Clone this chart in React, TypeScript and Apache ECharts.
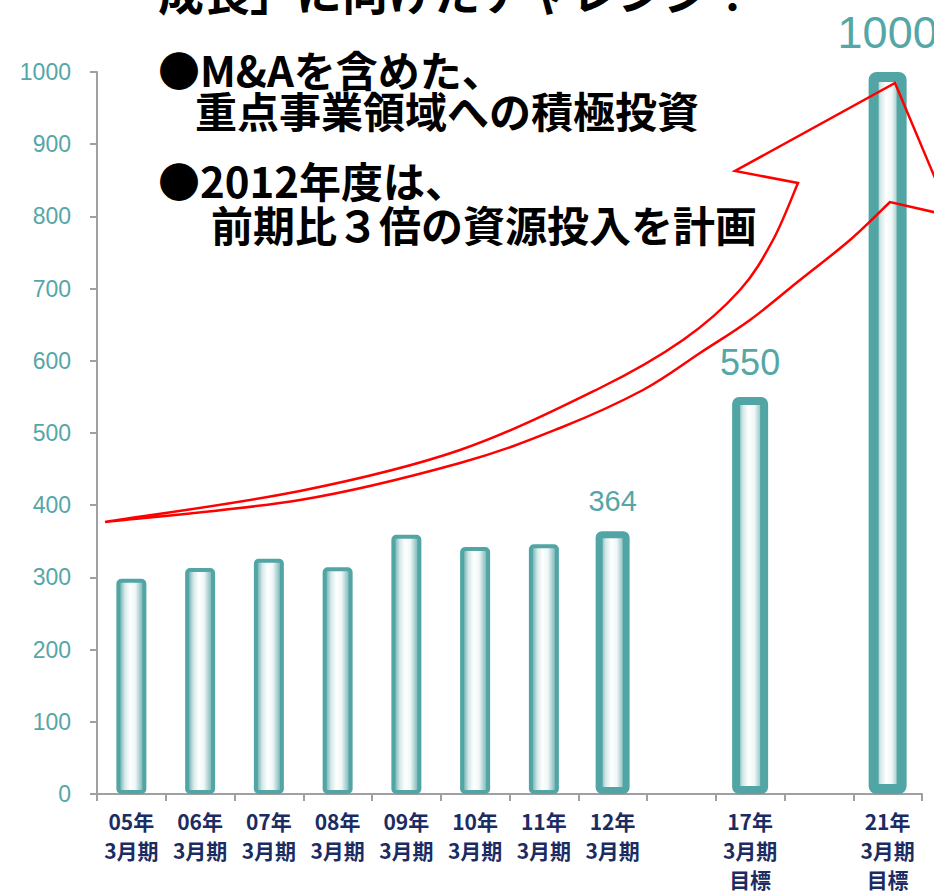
import React, { useEffect, useRef } from 'react';
import * as echarts from 'echarts';

const categories = [
  '05年\n3月期', '06年\n3月期', '07年\n3月期', '08年\n3月期', '09年\n3月期',
  '10年\n3月期', '11年\n3月期', '12年\n3月期', '', '17年\n3月期\n目標', '', '21年\n3月期\n目標',
];
const values: (number | null)[] = [298, 313, 326, 314, 359, 342, 346, 364, null, 550, null, 1000];
const labeledCategories = ['12年\n3月期', '17年\n3月期\n目標', '21年\n3月期\n目標'];
const yTicks = { min: 0, max: 1000, interval: 100 };

const titleText = '成長」に向けたチャレンジ！';
const bulletLines = ['●M&Aを含めた、', '重点事業領域への積極投資', '●2012年度は、', '前期比３倍の資源投入を計画'];

// Decorative arrow outline (pixel coordinates of the drawing)
const upperCurve: [number, number][] = [[105, 522], [300, 491], [460, 450], [600, 388], [683, 340], [740, 290], [773, 240], [798, 183]];
const lowerCurve: [number, number][] = [[890, 202], [850, 240], [800, 280], [750, 320], [700, 353], [643, 390], [560, 428], [460, 463], [300, 500], [105, 522]];

function catmull(points: [number, number][]): string {
  let d = '';
  for (let i = 0; i < points.length - 1; i++) {
    const p0 = points[Math.max(0, i - 1)];
    const p1 = points[i];
    const p2 = points[i + 1];
    const p3 = points[Math.min(points.length - 1, i + 2)];
    const c1x = p1[0] + (p2[0] - p0[0]) / 6;
    const c1y = p1[1] + (p2[1] - p0[1]) / 6;
    const c2x = p2[0] - (p3[0] - p1[0]) / 6;
    const c2y = p2[1] - (p3[1] - p1[1]) / 6;
    d += ` C${c1x.toFixed(1)},${c1y.toFixed(1)} ${c2x.toFixed(1)},${c2y.toFixed(1)} ${p2[0]},${p2[1]}`;
  }
  return d;
}

const arrowD =
  `M${upperCurve[0][0]},${upperCurve[0][1]}` +
  catmull(upperCurve) +
  ' L735,171 L895,83 L951,216 L890,202' +
  catmull(lowerCurve) +
  ' Z';

echarts.graphic.registerShape('arrowOutline', echarts.graphic.extendPath(arrowD, {}));

const TEAL = '#52a5a5';

export default function App() {
  const ref = useRef<HTMLDivElement>(null);
  useEffect(() => {
    if (!ref.current) return;
    const chart = echarts.init(ref.current, undefined, { renderer: 'svg' });
    const gradient = () => new echarts.graphic.LinearGradient(0, 0, 1, 0, [
      { offset: 0, color: '#55a2a2' },
      { offset: 0.25, color: '#d6e9e9' },
      { offset: 0.45, color: '#ffffff' },
      { offset: 0.65, color: '#f0f7f7' },
      { offset: 1, color: '#64a9a9' },
    ]);
    // bar groups: regular bars and the three labelled bars (each drawn heavier)
    const groups = [
      { cats: categories.filter((c) => c && !labeledCategories.includes(c)), width: 30, border: 4, fs: 0, dist: 0 },
      { cats: [labeledCategories[0]], width: 34, border: 7, fs: 29, dist: 16 },
      { cats: [labeledCategories[1]], width: 36, border: 8, fs: 36, dist: 16 },
      { cats: [labeledCategories[2]], width: 38, border: 10, fs: 45, dist: 17 },
    ];
    const axisBase = {
      type: 'category',
      data: categories,
      axisLine: { lineStyle: { color: '#a0a0a0', width: 2 } },
      axisTick: { show: true, length: 7, lineStyle: { color: '#a0a0a0', width: 2 } },
      axisLabel: {
        interval: 0,
        margin: 12,
        color: '#1b2c63',
        fontSize: 21,
        lineHeight: 29,
        fontWeight: 'bold',
        fontFamily: 'Noto Sans CJK JP',
      },
    };
    const xAxes = groups.map((_, i) => (i === 0 ? axisBase : { ...axisBase, show: false }));
    const series = groups.map((g, gi) => ({
      type: 'bar',
      xAxisIndex: gi,
      data: values.map((v, i) => (g.cats.includes(categories[i]) ? v : null)),
      barWidth: g.width,
      itemStyle: { color: gradient(), borderColor: TEAL, borderWidth: g.border, borderRadius: 3 },
      label: {
        show: g.fs > 0,
        position: 'top',
        distance: g.dist,
        fontSize: g.fs || 12,
        color: '#55a6a6',
        fontFamily: 'Liberation Sans',
      },
      z: 2,
    }));
    const textStyle = { fontSize: 42, lineHeight: 36, fontWeight: 'bold', fontFamily: 'Noto Sans CJK JP', fill: '#000', verticalAlign: 'middle' };
    chart.setOption({
      animation: false,
      grid: { left: 97, right: 12, top: 72, bottom: 99, containLabel: false },
      xAxis: xAxes,
      yAxis: {
        type: 'value',
        min: yTicks.min,
        max: yTicks.max,
        interval: yTicks.interval,
        splitLine: { show: false },
        axisLine: { show: true, lineStyle: { color: '#a0a0a0', width: 2 } },
        axisTick: { show: true, length: 7, lineStyle: { color: '#a0a0a0', width: 2 } },
        axisLabel: {
          margin: 26, color: '#55a6a6', fontSize: 23, fontFamily: 'Liberation Sans',
          formatter: (v: number) => String(v),
        },
      },
      series,
      graphic: [
        {
          type: 'text', x: 158, y: -10, z: 100,
          style: { ...textStyle, text: titleText, fontSize: 46, lineHeight: 46 },
        },
        { type: 'text', x: 158, y: 68, z: 100, style: { ...textStyle, text: bulletLines[0] } },
        { type: 'text', x: 195, y: 109, z: 100, style: { ...textStyle, text: bulletLines[1] } },
        { type: 'text', x: 158, y: 179, z: 100, style: { ...textStyle, text: bulletLines[2] } },
        { type: 'text', x: 211, y: 223, z: 100, style: { ...textStyle, text: bulletLines[3] } },
        {
          type: 'arrowOutline', x: 0, y: 0, z: 100,
          style: { fill: 'none', stroke: '#ff0000', lineWidth: 2.5 },
        },
      ],
    });
    return () => chart.dispose();
  }, []);
  return <div ref={ref} style={{ position: 'absolute', left: 0, top: 0, width: 934, height: 893 }} />;
}
